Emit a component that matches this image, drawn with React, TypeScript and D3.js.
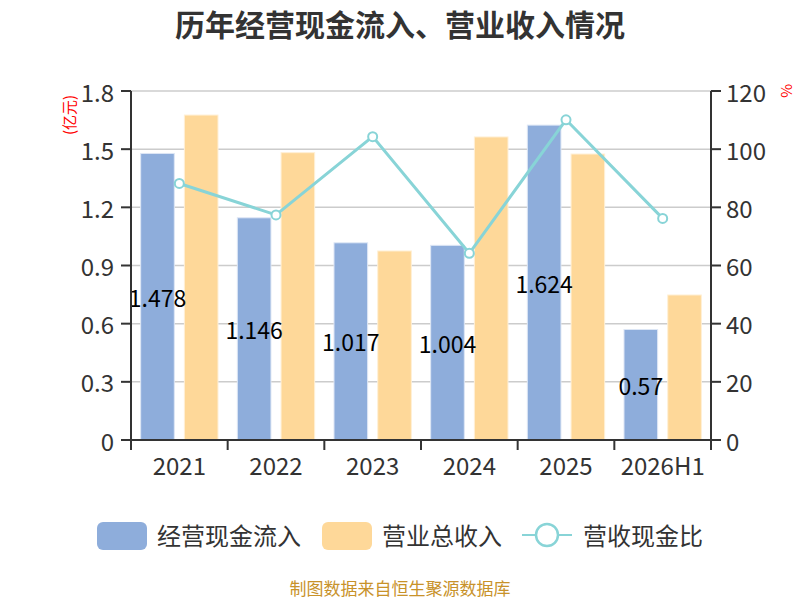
import React from 'react';
import * as d3 from 'd3';

const years = ['2021', '2022', '2023', '2024', '2025', '2026H1'];
const cashIn = [1.478, 1.146, 1.017, 1.004, 1.624, 0.57];
const revenue = [1.676, 1.482, 0.975, 1.563, 1.475, 0.748];
const ratio = [88.2, 77.4, 104.3, 64.2, 110.1, 76.2];
const leftTicks = [0, 0.3, 0.6, 0.9, 1.2, 1.5, 1.8];
const rightTicks = [0, 20, 40, 60, 80, 100, 120];

const width = 800;
const height = 600;
const margin = { top: 91, right: 89, bottom: 160, left: 131 };
const font = '"Noto Sans CJK SC", "Noto Sans", sans-serif';

const blue = '#8eaddb';
const orange = '#fed899';
const teal = '#88d4d7';

const App: React.FC = () => {
  const x0 = d3
    .scaleBand<string>()
    .domain(years)
    .range([margin.left, width - margin.right]);
  const bw = x0.bandwidth();
  const x1 = d3
    .scaleBand<string>()
    .domain(['cash', 'rev'])
    .range([bw * 0.1, bw * 0.9])
    .paddingInner(0.3 / 1.3);

  const yL = d3.scaleLinear().domain([0, 1.8]).range([height - margin.bottom, margin.top]);
  const yR = d3.scaleLinear().domain([0, 120]).range([height - margin.bottom, margin.top]);

  const line = d3
    .line<number>()
    .x((_, i) => (x0(years[i]) || 0) + bw / 2)
    .y((d) => yR(d));

  const bottom = height - margin.bottom;
  const left = margin.left;
  const right = width - margin.right;

  return (
    <svg
      width={width}
      height={height}
      style={{ position: 'absolute', left: 0, top: 0, background: '#fff' }}
      fontFamily={font}
    >
      <text x={400} y={23} textAnchor="middle" dominantBaseline="central" fontSize={30} fontWeight="bold" fill="#333">
        历年经营现金流入、营业收入情况
      </text>

      {/* grid */}
      {leftTicks.slice(1).map((t) => (
        <line key={t} x1={left} x2={right} y1={yL(t)} y2={yL(t)} stroke="#ccc" strokeWidth={1.5} />
      ))}

      {/* bars */}
      {years.map((y, i) => (
        <g key={y}>
          <rect
            x={(x0(y) || 0) + (x1('cash') || 0)}
            y={yL(cashIn[i])}
            width={x1.bandwidth()}
            height={bottom - yL(cashIn[i])}
            fill={blue}
            stroke="#dde6f5"
            strokeWidth={1}
          />
          <rect
            x={(x0(y) || 0) + (x1('rev') || 0)}
            y={yL(revenue[i])}
            width={x1.bandwidth()}
            height={bottom - yL(revenue[i])}
            fill={orange}
            stroke="#fff0d6"
            strokeWidth={1}
          />
        </g>
      ))}

      {/* line */}
      <path d={line(ratio) || ''} fill="none" stroke={teal} strokeWidth={3} />
      {ratio.map((r, i) => (
        <circle
          key={i}
          cx={(x0(years[i]) || 0) + bw / 2}
          cy={yR(r)}
          r={4.5}
          fill="#fff"
          stroke={teal}
          strokeWidth={2}
        />
      ))}

      {/* value labels */}
      {years.map((y, i) => (
        <text
          key={y}
          x={(x0(y) || 0) + (x1('cash') || 0) + x1.bandwidth() / 2}
          y={(yL(cashIn[i]) + bottom) / 2}
          textAnchor="middle"
          dominantBaseline="central"
          fontSize={23}
          fill="#000"
        >
          {cashIn[i]}
        </text>
      ))}

      {/* left axis */}
      <line x1={left} x2={left} y1={margin.top} y2={bottom} stroke="#333" strokeWidth={2} />
      {leftTicks.map((t) => (
        <g key={t}>
          <line x1={left - 10} x2={left} y1={yL(t)} y2={yL(t)} stroke="#333" strokeWidth={2} />
          <text x={left - 17} y={yL(t)} textAnchor="end" dominantBaseline="central" fontSize={24} fill="#333">
            {t === 0 ? '0' : t.toFixed(1)}
          </text>
        </g>
      ))}
      <text
        transform={`translate(68, 115) rotate(-90)`}
        textAnchor="middle"
        dominantBaseline="central"
        fontSize={15}
        fill="#f00"
      >
        (亿元)
      </text>

      {/* right axis */}
      <line x1={right} x2={right} y1={margin.top} y2={bottom} stroke="#333" strokeWidth={2} />
      {rightTicks.map((t) => (
        <g key={t}>
          <line x1={right} x2={right + 10} y1={yR(t)} y2={yR(t)} stroke="#333" strokeWidth={2} />
          <text x={right + 15} y={yR(t)} dominantBaseline="central" fontSize={24} fill="#333">
            {t}
          </text>
        </g>
      ))}
      <text
        transform={`translate(787, 91) rotate(90)`}
        textAnchor="middle"
        dominantBaseline="central"
        fontSize={15}
        fill="#f00"
      >
        %
      </text>

      {/* bottom axis */}
      <line x1={left} x2={right} y1={bottom} y2={bottom} stroke="#333" strokeWidth={2} />
      {[...years.map((y) => x0(y) || 0), right].map((px, i) => (
        <line key={i} x1={px} x2={px} y1={bottom} y2={bottom + 10} stroke="#333" strokeWidth={2} />
      ))}
      {years.map((y) => (
        <text
          key={y}
          x={(x0(y) || 0) + bw / 2}
          y={464}
          textAnchor="middle"
          dominantBaseline="central"
          fontSize={24}
          fill="#333"
        >
          {y}
        </text>
      ))}

      {/* legend */}
      <rect x={97} y={522} width={50} height={28} rx={6} fill={blue} />
      <text x={157} y={534} dominantBaseline="central" fontSize={24} fill="#333">
        经营现金流入
      </text>
      <rect x={322} y={522} width={50} height={28} rx={6} fill={orange} />
      <text x={382} y={534} dominantBaseline="central" fontSize={24} fill="#333">
        营业总收入
      </text>
      <line x1={522} x2={572} y1={535} y2={535} stroke={teal} strokeWidth={2} />
      <circle cx={547} cy={535} r={11} fill="#fff" stroke={teal} strokeWidth={2.5} />
      <text x={583} y={534} dominantBaseline="central" fontSize={24} fill="#333">
        营收现金比
      </text>

      <text x={400} y={587} textAnchor="middle" dominantBaseline="central" fontSize={17} fill="#c8922a">
        制图数据来自恒生聚源数据库
      </text>
    </svg>
  );
};

export default App;
